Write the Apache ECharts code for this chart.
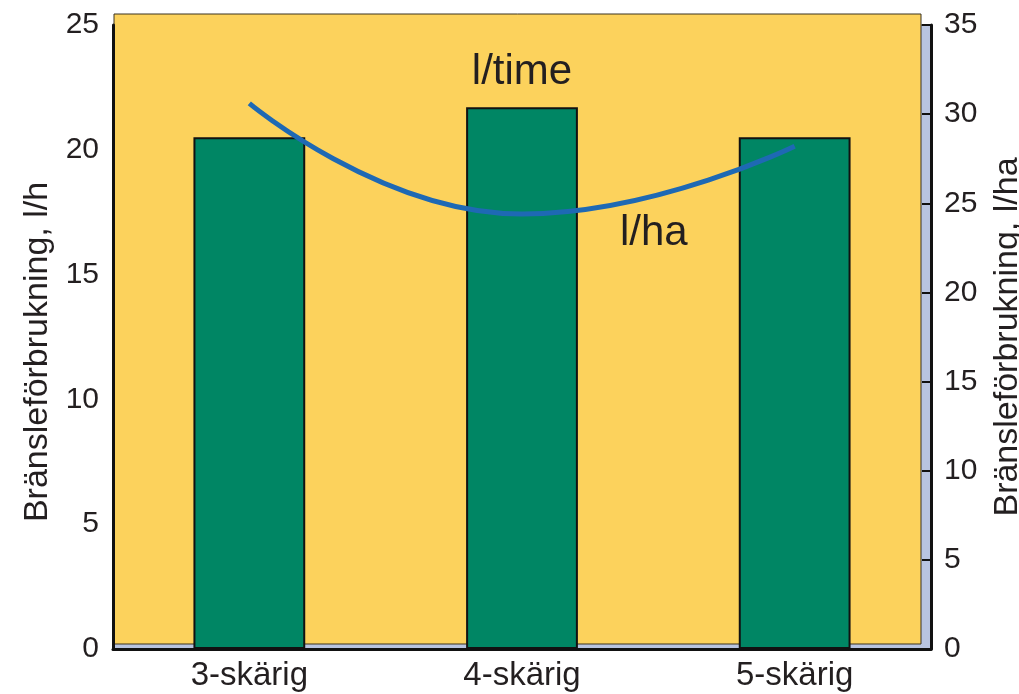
<!DOCTYPE html>
<html>
<head>
<meta charset="utf-8">
<script src="https://cdn.jsdelivr.net/npm/echarts@6/dist/echarts.min.js"></script>
<style>
  html, body { margin: 0; padding: 0; background: #fff; }
  #chart { width: 1019px; height: 694px; }
</style>
</head>
<body>
<div id="chart"></div>
<script>
// data
var categories = ['3-skärig', '4-skärig', '5-skärig'];
var litrePerHour = [20.5, 21.7, 20.5];     // bars, left axis (l/h)
var litrePerHa = [30.6, 24.4, 28.2];       // line, right axis (l/ha)
var leftTicks = [0, 25, 5];                // min, max, step
var rightTicks = [0, 35, 5];

var font = 'Liberation Sans, Arial, Helvetica, sans-serif';
var ink = '#231f20';

var chart = echarts.init(document.getElementById('chart'));

var option = {
  animation: false,
  textStyle: { fontFamily: font },
  grid: [
    // main grid: light blue "3d" shade shows on right/bottom
    { left: 113, right: 88, top: 25, bottom: 45, show: true, z: 0,
      outerBoundsMode: 'none', containLabel: false,
      backgroundColor: '#b8c4e0', borderColor: '#222', borderWidth: 1 },
    // yellow panel sitting a bit up-left of the axes
    { left: 114, right: 98, top: 14, bottom: 50, show: true, z: 1,
      outerBoundsMode: 'none', containLabel: false,
      backgroundColor: '#fcd25c', borderColor: '#3a3320', borderWidth: 1 }
  ],
  xAxis: [
    {
      type: 'category',
      gridIndex: 0,
      data: categories,
      z: 5,
      axisLine: { lineStyle: { color: '#111', width: 3 } },
      axisTick: { show: false },
      axisLabel: { color: ink, fontSize: 33, margin: 10 }
    },
    { type: 'value', gridIndex: 1, show: false }
  ],
  yAxis: [
    {
      type: 'value',
      gridIndex: 0,
      min: leftTicks[0], max: leftTicks[1], interval: leftTicks[2],
      z: 5,
      name: 'Bränsleförbrukning, l/h',
      nameLocation: 'middle',
      nameGap: 57,
      nameTextStyle: { color: ink, fontSize: 34, padding: [0, 30, 0, 0] },
      axisLine: { show: true, lineStyle: { color: '#111', width: 3 } },
      axisTick: { show: false },
      splitLine: { show: false },
      axisLabel: { color: ink, fontSize: 30, margin: 14 }
    },
    {
      type: 'value',
      gridIndex: 0,
      position: 'right',
      min: rightTicks[0], max: rightTicks[1], interval: rightTicks[2],
      z: 5,
      name: 'Bränsleförbrukning, l/ha',
      nameLocation: 'middle',
      nameGap: 60,
      nameRotate: 90,
      nameTextStyle: { color: ink, fontSize: 34 },
      axisLine: { show: true, lineStyle: { color: '#111', width: 3 } },
      axisTick: { show: true, inside: true, length: 9, lineStyle: { color: '#111', width: 2 } },
      splitLine: { show: false },
      axisLabel: { color: ink, fontSize: 30, margin: 13 }
    },
    { type: 'value', gridIndex: 1, show: false }
  ],
  series: [
    {
      name: 'l/time',
      type: 'bar',
      xAxisIndex: 0,
      yAxisIndex: 0,
      barWidth: '41%',
      itemStyle: { color: '#008664', borderColor: '#111', borderWidth: 2 },
      data: litrePerHour.map(function (v, i) {
        if (i === 1) {
          return {
            value: v,
            label: { show: true, position: 'top', distance: 14, formatter: 'l/time',
                     color: ink, fontSize: 42, fontFamily: font }
          };
        }
        return v;
      })
    },
    {
      name: 'l/ha',
      type: 'line',
      xAxisIndex: 0,
      yAxisIndex: 1,
      smooth: 0.5,
      showSymbol: false,
      symbol: 'none',
      lineStyle: { color: '#1e69b4', width: 5 },
      data: litrePerHa
    }
  ],
  graphic: [
    {
      type: 'text',
      left: 620,
      top: 212,
      z: 10,
      style: { text: 'l/ha', fill: ink, fontSize: 42, fontFamily: font }
    }
  ]
};

chart.setOption(option);
</script>
</body>
</html>
